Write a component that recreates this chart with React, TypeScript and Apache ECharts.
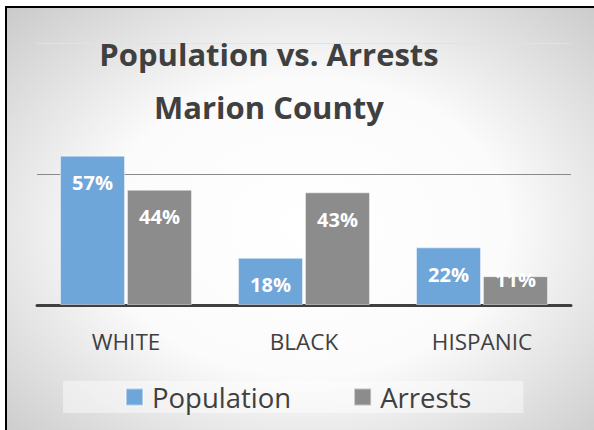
import React, { useEffect, useRef } from "react";
import * as echarts from "echarts";

const categories = ["WHITE", "BLACK", "HISPANIC"];
const population = [57, 18, 22];
const arrests = [44, 43, 11];
const yTicks = [0, 50, 100];

const FONT = "'Open Sans', sans-serif";
const TEXT = "#404040";

function withLabels(values: number[]) {
  return values.map((v) =>
    v < 15 ? { value: v, label: { offset: [0, -24] } } : v
  );
}

export default function App() {
  const ref = useRef<HTMLDivElement>(null);
  useEffect(() => {
    if (!ref.current) return;
    const chart = echarts.init(ref.current, undefined, { renderer: "svg" });
    const label = {
      show: true,
      position: "insideTop",
      distance: 17,
      formatter: "{c}%",
      color: "#ffffff",
      fontFamily: FONT,
      fontWeight: "bold",
      fontSize: 20,
    };
    chart.setOption({
      animation: false,
      textStyle: { fontFamily: FONT },
      graphic: [
        {
          type: "rect",
          z: -10,
          silent: true,
          shape: { x: 6, y: 7, width: 600, height: 440 },
          style: {
            fill: new echarts.graphic.RadialGradient(0.5, 0.5, 0.75, [
              { offset: 0, color: "#ffffff" },
              { offset: 0.45, color: "#fbfbfb" },
              { offset: 1, color: "#c4c4c4" },
            ]),
            stroke: "#000000",
            lineWidth: 2,
          },
        },
      ],
      title: {
        text: "Population vs. Arrests\nMarion County",
        left: 269,
        top: 27,
        padding: 0,
        textAlign: "center",
        textStyle: {
          fontFamily: FONT,
          fontWeight: "bold",
          fontSize: 31,
          lineHeight: 53,
          color: TEXT,
        },
      },
      legend: {
        data: ["Population", "Arrests"],
        left: 63,
        top: 381,
        padding: [2, 52, 2, 62],
        itemWidth: 17,
        itemHeight: 17,
        itemGap: 62,
        backgroundColor: "rgba(255,255,255,0.45)",
        textStyle: {
          fontFamily: FONT,
          fontSize: 27.5,
          color: TEXT,
          padding: [0, 0, 0, 4],
        },
        icon: "rect",
      },
      grid: { left: 37, right: 23, top: 43, bottom: 125, containLabel: false },
      xAxis: {
        type: "category",
        data: categories,
        axisLine: { lineStyle: { color: "#404040", width: 3 } },
        axisTick: { show: false },
        axisLabel: { margin: 25, fontFamily: FONT, fontSize: 22.5, color: TEXT },
      },
      yAxis: {
        type: "value",
        min: yTicks[0],
        max: yTicks[yTicks.length - 1],
        interval: yTicks[1] - yTicks[0],
        axisLabel: { show: false },
        axisLine: { show: false },
        axisTick: { show: false },
        splitLine: {
          lineStyle: { color: ["#404040", "#8a8a8a", "#e2e2e2"], width: 1 },
        },
      },
      series: [
        {
          name: "Population",
          type: "bar",
          data: withLabels(population),
          barWidth: 65,
          barGap: "3%",
          itemStyle: {
            color: "#6fa6da",
            borderColor: "rgba(255,255,255,0.45)",
            borderWidth: 1,
          },
          label,
        },
        {
          name: "Arrests",
          type: "bar",
          data: withLabels(arrests),
          barWidth: 65,
          itemStyle: {
            color: "#8c8c8c",
            borderColor: "rgba(255,255,255,0.45)",
            borderWidth: 1,
          },
          label,
        },
      ],
    });
    return () => chart.dispose();
  }, []);
  return (
    <div
      ref={ref}
      style={{ position: "absolute", left: 0, top: 0, width: 594, height: 430 }}
    />
  );
}
